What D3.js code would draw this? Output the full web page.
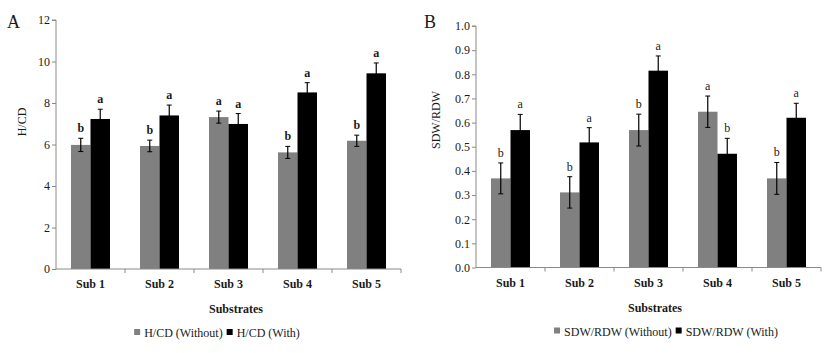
<!DOCTYPE html>
<html><head><meta charset="utf-8">
<script src="https://cdn.jsdelivr.net/npm/d3@7"></script>
<style>body{margin:0;background:#fff;} svg text{font-family:'Liberation Serif','Times New Roman',serif !important;fill:#1a1a1a;}</style>
</head><body>
<svg id="c" width="827" height="353" font-family="Liberation Serif"></svg>
<script>
const categories = ["Sub 1","Sub 2","Sub 3","Sub 4","Sub 5"];
const seriesNames = ["Without","With"];

const hcdWithout = [5.98, 5.93, 7.32, 5.62, 6.18];
const hcdWithoutErr = [0.32, 0.28, 0.29, 0.29, 0.27];
const hcdWith = [7.23, 7.40, 6.99, 8.51, 9.43];
const hcdWithErr = [0.47, 0.50, 0.50, 0.47, 0.50];
const hcdLettersWithout = ["b","b","a","b","b"];
const hcdLettersWith = ["a","a","a","a","a"];
const hcdTicks = [0,2,4,6,8,10,12];

const sdwWithout = [0.369, 0.311, 0.569, 0.645, 0.369];
const sdwWithoutErr = [0.064, 0.065, 0.066, 0.065, 0.066];
const sdwWith = [0.569, 0.518, 0.815, 0.471, 0.620];
const sdwWithErr = [0.065, 0.061, 0.061, 0.064, 0.060];
const sdwLettersWithout = ["b","b","b","a","b"];
const sdwLettersWith = ["a","a","a","b","a"];
const sdwTicks = [0,0.1,0.2,0.3,0.4,0.5,0.6,0.7,0.8,0.9,1.0];

const colors = ["#808080", "#000000"];
const svg = d3.select("#c");

function panel(o){
  const g = svg.append("g");
  const x = d3.scaleBand().domain(categories).range([o.x0, o.x1]).padding(0);
  const xs = d3.scaleBand().domain(seriesNames).range([0, x.bandwidth()]).paddingInner(0).paddingOuter(0.77);
  const y = d3.scaleLinear().domain([o.ymin, o.ymax]).range([o.y0, o.y1]);

  const vals = [o.without, o.with], errs = [o.withoutErr, o.withErr], lets = [o.lWithout, o.lWith];
  seriesNames.forEach((s, si) => {
    categories.forEach((c, i) => {
      const bx = x(c) + xs(s), bw = xs.bandwidth();
      g.append("rect").attr("x", bx).attr("y", y(vals[si][i])).attr("width", bw)
        .attr("height", y(o.ymin) - y(vals[si][i])).attr("fill", colors[si]);
      const cx = bx + bw/2;
      const top = y(vals[si][i] + errs[si][i]), bot = y(vals[si][i] - errs[si][i]);
      g.append("line").attr("x1", cx).attr("x2", cx).attr("y1", top).attr("y2", bot).attr("stroke", "#000").attr("stroke-width", 1.2);
      g.append("line").attr("x1", cx-2.5).attr("x2", cx+2.5).attr("y1", top).attr("y2", top).attr("stroke", "#000").attr("stroke-width", 1);
      g.append("line").attr("x1", cx-2.5).attr("x2", cx+2.5).attr("y1", bot).attr("y2", bot).attr("stroke", "#000").attr("stroke-width", 1);
      g.append("text").attr("x", cx).attr("y", top - 6).attr("text-anchor", "middle")
        .attr("font-size", 12).attr("font-weight", o.letterWeight).text(lets[si][i]);
    });
  });

  const ya = d3.axisLeft(y).tickValues(o.ticks).tickSize(4).tickPadding(2).tickFormat(o.fmt);
  const yg = g.append("g").attr("transform", `translate(${o.x0},0)`).call(ya);
  yg.attr("font-family", null).attr("font-size", null);
  yg.select(".domain").attr("stroke", "#8a8a8a").attr("d", `M-4,${o.y1}H0V${o.y0}`);
  yg.selectAll(".tick line").attr("stroke", "#8a8a8a");
  yg.selectAll("text").attr("font-size", 12).attr("fill", "#222");

  g.append("line").attr("x1", o.x0).attr("x2", o.x1).attr("y1", o.y0).attr("y2", o.y0).attr("stroke", "#8a8a8a");
  categories.forEach((c, i) => {
    const tx = x(c) + x.bandwidth();
    g.append("line").attr("x1", tx).attr("x2", tx).attr("y1", o.y0).attr("y2", o.y0 + 4).attr("stroke", "#8a8a8a");
    g.append("text").attr("x", x(c) + x.bandwidth()/2).attr("y", o.y0 + 19).attr("text-anchor", "middle")
      .attr("font-size", 12).attr("font-weight", o.subWeight).text(c);
  });

  g.append("text").attr("x", o.titleX).attr("y", o.y0 + 44).attr("text-anchor", "middle").attr("font-size", 12).attr("font-weight", "bold").text("Substrates");
  g.append("text").attr("transform", `translate(${o.ylabX},${o.ylabY}) rotate(-90)`).attr("text-anchor", "middle")
    .attr("font-size", 12).text(o.ylab);
  g.append("text").attr("x", o.panelX).attr("y", o.panelY).attr("font-size", 18).text(o.panel);

  const lg = g.append("g");
  const names = [o.ylab + " (Without)", o.ylab + " (With)"];
  let cx = 0;
  names.forEach((n, i) => {
    const it = lg.append("g").attr("transform", `translate(${cx},0)`);
    it.append("rect").attr("x", 0).attr("y", -8).attr("width", 6).attr("height", 6).attr("fill", colors[i]);
    const t = it.append("text").attr("x", 10).attr("y", 0).attr("font-size", 12).text(n);
    cx += 10 + t.node().getComputedTextLength() + 4;
  });
  lg.attr("transform", `translate(${o.legendX - cx/2},${o.y0 + 68})`);
}

panel({x0:56, x1:401, y0:269, y1:20, ymin:0, ymax:12, ticks:hcdTicks, fmt:d3.format("d"),
  without:hcdWithout, withoutErr:hcdWithoutErr, with:hcdWith, withErr:hcdWithErr,
  lWithout:hcdLettersWithout, lWith:hcdLettersWith, letterWeight:"bold", subWeight:"bold",
  ylab:"H/CD", ylabX:26, ylabY:122, panel:"A", panelX:7, panelY:28, titleX:236, legendX:219});

panel({x0:476, x1:821, y0:267.5, y1:26, ymin:0, ymax:1, ticks:sdwTicks, fmt:d3.format(".1f"),
  without:sdwWithout, withoutErr:sdwWithoutErr, with:sdwWith, withErr:sdwWithErr,
  lWithout:sdwLettersWithout, lWith:sdwLettersWith, letterWeight:"normal", subWeight:"bold",
  ylab:"SDW/RDW", ylabX:440, ylabY:120, panel:"B", panelX:424, panelY:28, titleX:655, legendX:668});
</script>
</body></html>
